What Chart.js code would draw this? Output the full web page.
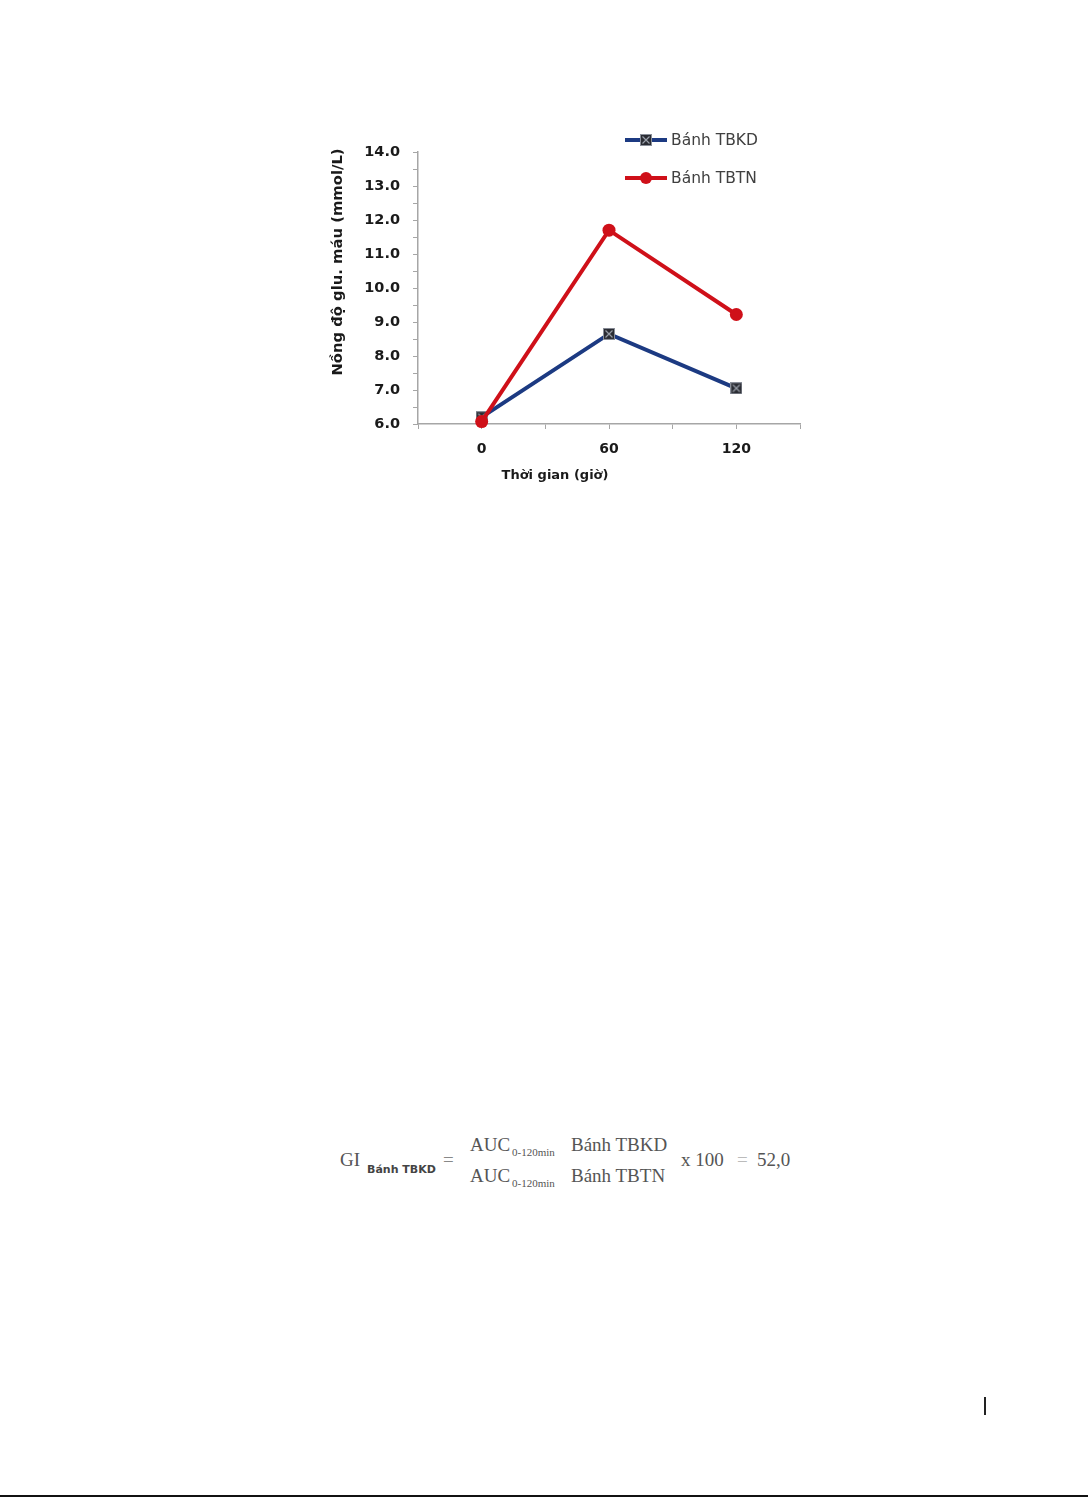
<!DOCTYPE html>
<html>
<head>
<meta charset="utf-8">
<script src="https://cdn.jsdelivr.net/npm/chart.js@4/dist/chart.umd.min.js"></script>
<style>
  html, body { margin: 0; padding: 0; background: #fff; }
  body { width: 1090px; height: 1498px; position: relative; overflow: hidden; }
  #chartBox { position: absolute; left: 320px; top: 120px; width: 490px; height: 380px; }
  .f { position: absolute; font-family: "Liberation Serif", "DejaVu Serif", serif; color: #555; white-space: nowrap; }
  .big { font-size: 19px; }
  .sub { font-size: 11px; }
  .subb { font-size: 11px; font-family: "DejaVu Sans", sans-serif; font-weight: bold; color: #444; }
  #pageBar { position: absolute; left: 984px; top: 1397px; width: 2px; height: 18px; background: #222; }
  #bottomLine { position: absolute; left: 0; top: 1495px; width: 1088px; height: 2px; background: #111; }
</style>
</head>
<body>
<div id="chartBox"><canvas id="glucoseChart"></canvas></div>

<!-- cong thuc GI -->
<span class="f big" style="left:340px; top:1149px;">GI</span>
<span class="subb" style="position:absolute; left:367px; top:1163px;">Bánh TBKD</span>
<span class="f big" style="left:443px; top:1149px; color:#888;">=</span>
<span class="f big" style="left:470px; top:1134px;">AUC</span>
<span class="f sub" style="left:512px; top:1146px;">0-120min</span>
<span class="f big" style="left:571px; top:1134px;">Bánh TBKD</span>
<span class="f big" style="left:470px; top:1165px;">AUC</span>
<span class="f sub" style="left:512px; top:1177px;">0-120min</span>
<span class="f big" style="left:571px; top:1165px;">Bánh TBTN</span>
<span class="f big" style="left:681px; top:1149px;">x 100</span>
<span class="f big" style="left:737px; top:1149px; color:#bbb;">=</span>
<span class="f big" style="left:757px; top:1149px;">52,0</span>

<div id="pageBar"></div>
<div id="bottomLine"></div>

<script>
// du lieu doc tu hinh
var timeLabels = [0, 60, 120];
var seriesNames = ["Bánh TBKD", "Bánh TBTN"];
var tbkdValues = [6.2, 8.65, 7.05];
var tbtnValues = [6.07, 11.7, 9.22];
var yTicks = [6, 7, 8, 9, 10, 11, 12, 13, 14];

var yTitle = "Nồng độ glu. máu (mmol/L)";
var xTitle = "Thời gian (giờ)";

var axisColor = "#a6a6a6";
var blueColor = "#1c3a82";
var redColor = "#cf1019";

// marker vuong co dau X
function makeSquareMarker() {
  var c = document.createElement("canvas");
  c.width = 12;
  c.height = 12;
  var g = c.getContext("2d");
  g.fillStyle = "#8a8f99";
  g.fillRect(0, 0, 12, 12);
  g.fillStyle = "#2a2c33";
  g.fillRect(1, 1, 10, 10);
  g.strokeStyle = "#9aa0aa";
  g.lineWidth = 1.2;
  g.beginPath();
  g.moveTo(2.5, 2.5);
  g.lineTo(9.5, 9.5);
  g.moveTo(9.5, 2.5);
  g.lineTo(2.5, 9.5);
  g.stroke();
  return c;
}
var squareMarker = makeSquareMarker();

function toPoints(values) {
  return timeLabels.map(function (t, i) {
    return { x: t, y: values[i] };
  });
}

// ve legend va tieu de truc
var decorPlugin = {
  id: "decor",
  afterDraw: function (chart) {
    var ctx = chart.ctx;
    var area = chart.chartArea;
    ctx.save();
    // legend
    chart.data.datasets.forEach(function (ds, i) {
      var y = area.top - 12 + i * 38;
      var x0 = area.right - 175;
      ctx.strokeStyle = ds.borderColor;
      ctx.lineWidth = 4;
      ctx.beginPath();
      ctx.moveTo(x0, y);
      ctx.lineTo(x0 + 42, y);
      ctx.stroke();
      if (ds.pointStyle === "circle") {
        ctx.fillStyle = ds.pointBackgroundColor;
        ctx.beginPath();
        ctx.arc(x0 + 21, y, 6, 0, Math.PI * 2);
        ctx.fill();
      } else {
        ctx.drawImage(ds.pointStyle, x0 + 21 - 6, y - 6);
      }
      ctx.fillStyle = "#404040";
      ctx.font = "15.5px 'DejaVu Sans'";
      ctx.textAlign = "left";
      ctx.textBaseline = "middle";
      ctx.fillText(ds.label, x0 + 46, y + 1);
    });
    // tieu de truc
    ctx.fillStyle = "#1a1a1a";
    ctx.font = "bold 13px 'DejaVu Sans'";
    ctx.textAlign = "center";
    ctx.textBaseline = "middle";
    ctx.fillText(xTitle, area.left + 137, area.bottom + 52);
    ctx.font = "bold 14.8px 'DejaVu Sans'";
    ctx.translate(area.left - 80, area.top + 110);
    ctx.rotate(-Math.PI / 2);
    ctx.fillText(yTitle, 0, 0);
    ctx.restore();
  },
};

var ctxGlucose = document.getElementById("glucoseChart");
var chartGlucose = new Chart(ctxGlucose, {
  type: "line",
  data: {
    datasets: [
      {
        label: seriesNames[0],
        data: toPoints(tbkdValues),
        borderColor: blueColor,
        borderWidth: 4,
        pointStyle: squareMarker,
        pointRadius: 6,
        clip: false,
        order: 2,
      },
      {
        label: seriesNames[1],
        data: toPoints(tbtnValues),
        borderColor: redColor,
        backgroundColor: redColor,
        pointBackgroundColor: redColor,
        pointBorderColor: redColor,
        pointBorderWidth: 0,
        borderWidth: 4,
        pointStyle: "circle",
        pointRadius: 6.5,
        clip: false,
        order: 1,
      },
    ],
  },
  options: {
    responsive: true,
    maintainAspectRatio: false,
    animation: false,
    layout: {
      padding: { top: 32, right: 8, left: 0, bottom: 0 },
    },
    plugins: {
      legend: { display: false },
      tooltip: { enabled: false },
    },
    scales: {
      x: {
        type: "linear",
        min: timeLabels[0] - 30,
        max: timeLabels[timeLabels.length - 1] + 30,
        afterBuildTicks: function (scale) {
          var t = [];
          for (var v = scale.min; v <= scale.max; v += 30) t.push({ value: v });
          scale.ticks = t;
        },
        afterFit: function (scale) {
          scale.height = 76;
          scale.paddingLeft = 0;
          scale.paddingRight = 0;
        },
        grid: {
          drawOnChartArea: false,
          drawTicks: true,
          tickLength: 5,
          color: axisColor,
          lineWidth: 1,
        },
        border: { display: true, color: axisColor, width: 1.5 },
        ticks: {
          autoSkip: false,
          maxRotation: 0,
          padding: 12,
          color: "#1a1a1a",
          font: { family: "DejaVu Sans", size: 14, weight: "bold" },
          callback: function (value) {
            return timeLabels.indexOf(value) >= 0 ? String(value) : "";
          },
        },
      },
      y: {
        min: yTicks[0],
        max: yTicks[yTicks.length - 1],
        afterBuildTicks: function (scale) {
          var t = [];
          for (var v = scale.min; v <= scale.max + 0.001; v += 0.5) t.push({ value: v });
          scale.ticks = t;
        },
        afterFit: function (scale) {
          scale.width = 98;
        },
        grid: {
          drawOnChartArea: false,
          drawTicks: true,
          tickLength: 5,
          color: axisColor,
          lineWidth: 1,
        },
        border: { display: true, color: axisColor, width: 1.5 },
        ticks: {
          autoSkip: false,
          padding: 13,
          color: "#1a1a1a",
          font: { family: "DejaVu Sans", size: 14.5, weight: "bold" },
          callback: function (value) {
            return yTicks.indexOf(value) >= 0 ? value.toFixed(1) : "";
          },
        },
      },
    },
  },
  plugins: [decorPlugin],
});
</script>
</body>
</html>
